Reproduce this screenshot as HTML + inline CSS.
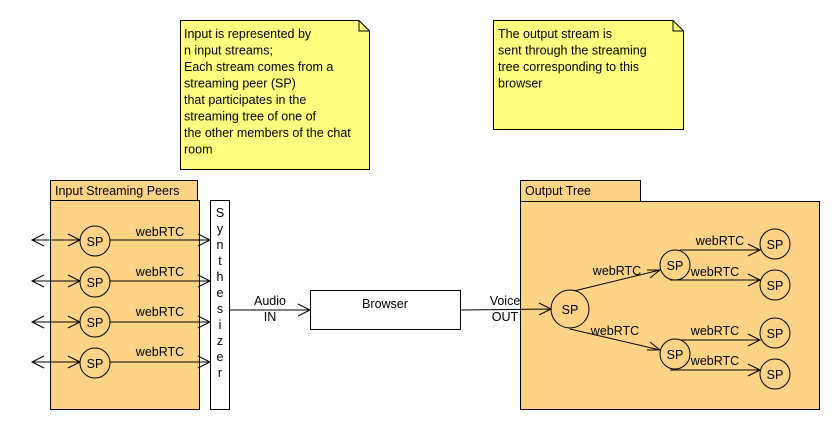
<!DOCTYPE html>
<html><head><style>body{margin:0;background:#fff}svg{display:block}</style></head><body>
<svg width="840" height="430" xmlns="http://www.w3.org/2000/svg" font-family="Liberation Sans, Arial, sans-serif" font-size="12.5">
<!-- notes -->
<path d="M180.5,20.5 H359 L369.5,31 V169.5 H180.5 Z" fill="#ffff80" stroke="#000"/>
<path d="M359,20.5 V31 H369.5" fill="none" stroke="#000"/>
<g fill="#000"><text x="184" y="38">Input is represented by</text><text x="184" y="54.5">n input streams;</text><text x="184" y="71">Each stream comes from a</text><text x="184" y="87.5">streaming peer (SP)</text><text x="184" y="104">that participates in the</text><text x="184" y="120.5">streaming tree of one of</text><text x="184" y="137">the other members of the chat</text><text x="184" y="153.5">room</text></g>
<path d="M493.5,20.5 H673 L683.5,31 V129.5 H493.5 Z" fill="#ffff80" stroke="#000"/>
<path d="M673,20.5 V31 H683.5" fill="none" stroke="#000"/>
<g><text x="498" y="38">The output stream is</text><text x="498" y="54.5">sent through the streaming</text><text x="498" y="71">tree corresponding to this</text><text x="498" y="87.5">browser</text></g>
<!-- left package -->
<rect x="50.5" y="180.5" width="147" height="20" fill="#fdd386" stroke="#000"/>
<rect x="50.5" y="200.5" width="149" height="209" fill="#fdd386" stroke="#000"/>
<text x="55" y="195">Input Streaming Peers</text>
<rect x="210.5" y="200.5" width="19" height="209" fill="#fff" stroke="#000"/>
<g text-anchor="middle"><text x="220" y="217">S</text><text x="220" y="233">y</text><text x="220" y="249">n</text><text x="220" y="265">t</text><text x="220" y="281">h</text><text x="220" y="297">e</text><text x="220" y="313">s</text><text x="220" y="329">i</text><text x="220" y="345">z</text><text x="220" y="361">e</text><text x="220" y="377">r</text></g>
<g stroke="#000" fill="none">
<path d="M44,234 L32,240 L44,246 M32,240 H80 M68,234 L80,240 L68,246 M110,240 H210 M198,234 L210,240 L198,246"/>
<path d="M44,275 L32,281 L44,287 M32,281 H80 M68,275 L80,281 L68,287 M110,281 H210 M198,275 L210,281 L198,287"/>
<path d="M44,316 L32,322 L44,328 M32,322 H80 M68,316 L80,322 L68,328 M110,322 H210 M198,316 L210,322 L198,328"/>
<path d="M44,356 L32,362 L44,368 M32,362 H80 M68,356 L80,362 L68,368 M110,362 H210 M198,356 L210,362 L198,368"/>
<circle cx="95" cy="241" r="15" fill="#fdd386"/><circle cx="95" cy="282" r="15" fill="#fdd386"/><circle cx="95" cy="322" r="15" fill="#fdd386"/><circle cx="95" cy="363" r="15" fill="#fdd386"/>
<path d="M229,310 H310 M298,304 L310,310 L298,316"/>
</g>
<g text-anchor="middle"><text x="95" y="246">SP</text><text x="95" y="287">SP</text><text x="95" y="327">SP</text><text x="95" y="368">SP</text>
<text x="160" y="236">webRTC</text><text x="160" y="276">webRTC</text><text x="160" y="316">webRTC</text><text x="160" y="356">webRTC</text>
<text x="270" y="305">Audio</text><text x="270" y="321">IN</text></g>
<rect x="310.5" y="290.5" width="150" height="39" fill="#fff" stroke="#000"/>
<text x="385" y="308" text-anchor="middle">Browser</text>
<!-- right package -->
<rect x="520.5" y="180.5" width="120" height="21" fill="#fdd386" stroke="#000"/>
<rect x="520.5" y="201.5" width="299" height="208" fill="#fdd386" stroke="#000"/>
<text x="525" y="195">Output Tree</text>
<g stroke="#000" fill="none">
<path d="M460,310 L551,309 M539,303 L551,309 L539,315"/>
<path d="M574,291 L660,270 M647,270 L660,270 L650,278"/>
<path d="M570,329 L660,350 M650,342 L660,350 L647,350"/>
<path d="M680,250 H760 M748,244 L760,250 L748,256"/>
<path d="M670,280 H760 M748,274 L760,280 L748,286"/>
<path d="M680,340 H760 M748,334 L760,340 L748,346"/>
<path d="M670,370 H760 M748,364 L760,370 L748,376"/>
<circle cx="570" cy="309" r="19" fill="#fdd386"/>
<circle cx="675" cy="265" r="15" fill="#fdd386"/><circle cx="675" cy="354" r="15" fill="#fdd386"/>
<circle cx="775" cy="244" r="15" fill="#fdd386"/><circle cx="775" cy="285" r="15" fill="#fdd386"/><circle cx="775" cy="333" r="15" fill="#fdd386"/><circle cx="775" cy="374" r="15" fill="#fdd386"/>
</g>
<g text-anchor="middle"><text x="570" y="314">SP</text><text x="675" y="270">SP</text><text x="675" y="359">SP</text>
<text x="775" y="249">SP</text><text x="775" y="290">SP</text><text x="775" y="338">SP</text><text x="775" y="379">SP</text>
<text x="505" y="305">Voice</text><text x="505" y="321">OUT</text>
<text x="617" y="275">webRTC</text><text x="615" y="335">webRTC</text>
<text x="720" y="245">webRTC</text><text x="715" y="276">webRTC</text><text x="715" y="335">webRTC</text><text x="715" y="365">webRTC</text></g>
</svg>
</body></html>
